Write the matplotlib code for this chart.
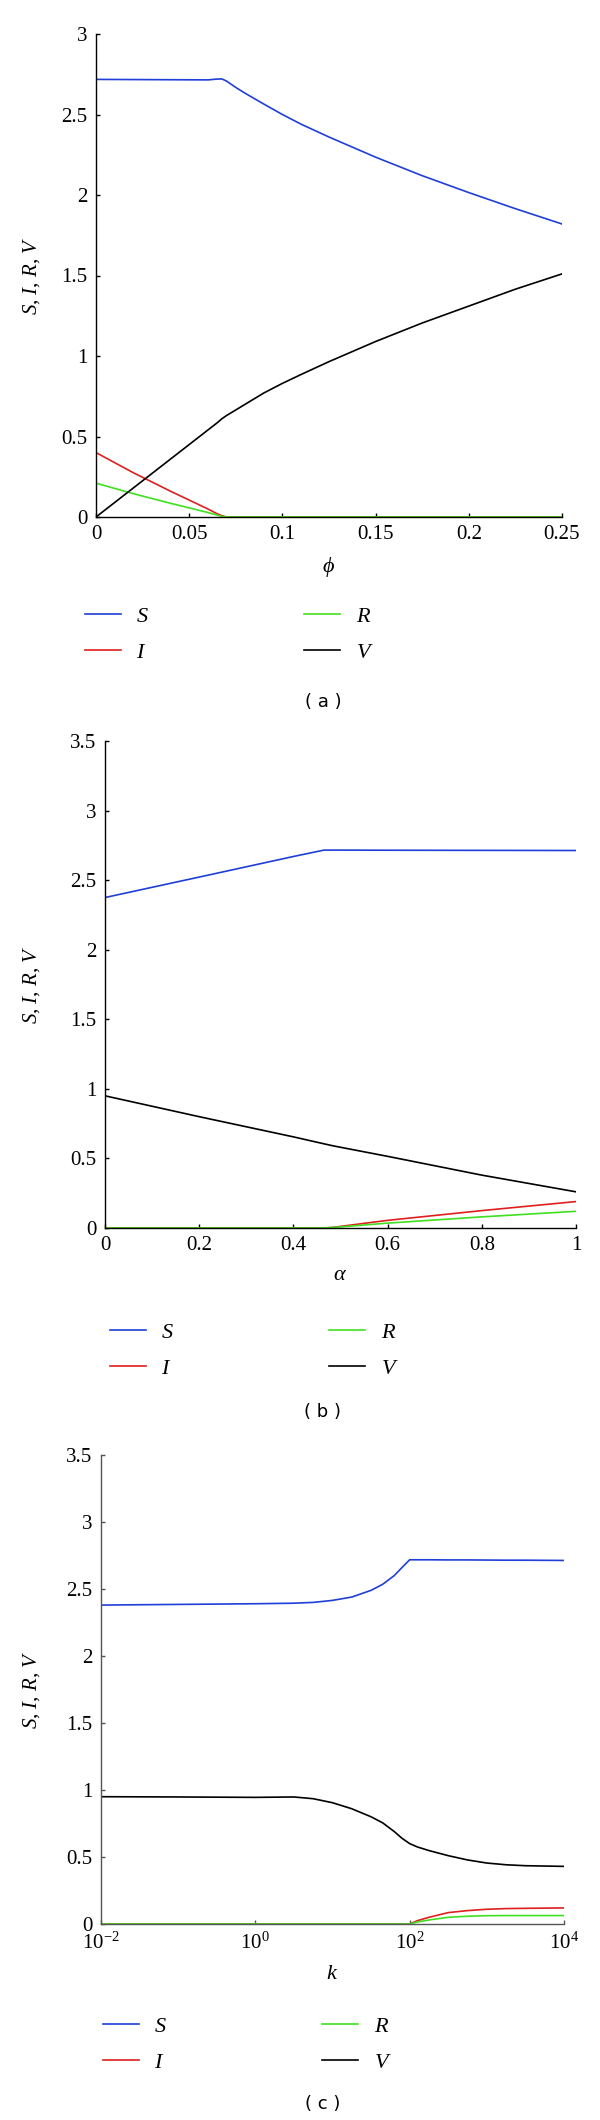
import matplotlib
matplotlib.use("Agg")
import matplotlib.pyplot as plt

# ---- panel (a): phi ----
phi = [0, 0.02, 0.04, 0.06, 0.065, 0.0675, 0.07, 0.075, 0.08, 0.09, 0.1,
       0.11, 0.125, 0.14, 0.15, 0.175, 0.2, 0.225, 0.25]
S_a = [2.718, 2.717, 2.716, 2.715, 2.72, 2.721, 2.708, 2.668, 2.632, 2.565, 2.50,
       2.44, 2.36, 2.285, 2.235, 2.12, 2.015, 1.915, 1.82]
V_a = [0, 0.18, 0.36, 0.54, 0.585, 0.61, 0.63, 0.665, 0.70, 0.77, 0.83,
       0.885, 0.965, 1.04, 1.09, 1.205, 1.31, 1.415, 1.51]
I_a = [0.40, 0.275, 0.16, 0.05, 0.02, 0.008, 0, 0, 0, 0, 0,
       0, 0, 0, 0, 0, 0, 0, 0]
R_a = [0.21, 0.145, 0.085, 0.028, 0.012, 0.004, 0, 0, 0, 0, 0,
       0, 0, 0, 0, 0, 0, 0, 0]

# ---- panel (b): alpha ----
alpha = [0, 0.2, 0.4, 0.465, 0.485, 0.6, 0.8, 1.0]
S_b = [2.375, 2.522, 2.67, 2.716, 2.716, 2.715, 2.714, 2.713]
V_b = [0.95, 0.80, 0.655, 0.605, 0.59, 0.515, 0.38, 0.26]
I_b = [0, 0, 0, 0, 0.005, 0.055, 0.125, 0.19]
R_b = [0, 0, 0, 0, 0.004, 0.035, 0.08, 0.12]

# ---- panel (c): k (log scale), given as log10(k) ----
logk = [-2, -1, 0, 0.5, 0.75, 1.0, 1.25, 1.5, 1.65, 1.8, 1.9, 2.0,
        2.1, 2.25, 2.5, 2.75, 3.0, 3.25, 3.5, 4.0]
S_c = [2.38, 2.385, 2.39, 2.394, 2.40, 2.415, 2.44, 2.49, 2.535, 2.60, 2.66, 2.718,
       2.718, 2.718, 2.717, 2.717, 2.716, 2.715, 2.715, 2.713]
V_c = [0.95, 0.948, 0.945, 0.948, 0.935, 0.905, 0.86, 0.80, 0.755, 0.69, 0.64, 0.60,
       0.575, 0.548, 0.51, 0.478, 0.455, 0.442, 0.435, 0.43]
I_c = [0, 0, 0, 0, 0, 0, 0, 0, 0, 0, 0, 0,
       0.025, 0.05, 0.085, 0.10, 0.11, 0.115, 0.117, 0.12]
R_c = [0, 0, 0, 0, 0, 0, 0, 0, 0, 0, 0, 0,
       0.015, 0.03, 0.05, 0.058, 0.062, 0.063, 0.063, 0.063]
k = [10 ** v for v in logk]

labels = ["$S$", "$I$", "$R$", "$V$"]
colors = ["#1f3fd8", "#e01f1f", "#3fe01f", "#000000"]

plt.rcParams["font.family"] = ["Liberation Serif", "DejaVu Serif"]
plt.rcParams["mathtext.fontset"] = "custom"
plt.rcParams["mathtext.rm"] = "Liberation Serif"
plt.rcParams["mathtext.it"] = "Liberation Serif:italic"
plt.rcParams["mathtext.bf"] = "Liberation Serif:bold"

W, H = 600, 2120
fig = plt.figure(figsize=(W / 100, H / 100), dpi=100)


def px_axes(left, right, top, bottom):
    return fig.add_axes([left / W, 1 - bottom / H, (right - left) / W, (bottom - top) / H])


def style(ax, spine_color="black"):
    for s in ["top", "right"]:
        ax.spines[s].set_visible(False)
    for s in ["left", "bottom"]:
        ax.spines[s].set_color(spine_color)
        ax.spines[s].set_linewidth(1.0)
    ax.tick_params(direction="in", length=3, width=1.0, labelsize=15, pad=6,
                   color=spine_color)
    ax.minorticks_off()


def panel(ax, x, series, xlabel, ymax, yticks, ylabel_x):
    lines = []
    for y, lab, c in zip(series, labels, colors):
        ln, = ax.plot(x, y, color=c, lw=1.2, label=lab)
        lines.append(ln)
    ax.set_ylim(0, ymax)
    ax.set_yticks(yticks)
    ax.set_yticklabels([("%g" % t) for t in yticks])
    ax.set_xlabel(xlabel, fontsize=16, labelpad=8)
    ax.set_ylabel("$S$, $I$, $R$, $V$", fontsize=15)
    ax.yaxis.set_label_coords(ylabel_x, 0.5)
    return lines


# (a)
ax1 = px_axes(96, 562, 34, 517)
style(ax1)
ln1 = panel(ax1, phi, [S_a, I_a, R_a, V_a], r"$\phi$", 3,
            [0, 0.5, 1, 1.5, 2, 2.5, 3], (42 - 96) / 466)
ax1.set_xlim(0, 0.25)
ax1.set_xticks([0, 0.05, 0.1, 0.15, 0.2, 0.25])
ax1.set_xticklabels(["0", "0.05", "0.1", "0.15", "0.2", "0.25"])

# (b)
ax2 = px_axes(105, 576, 741, 1228)
style(ax2)
ln2 = panel(ax2, alpha, [S_b, I_b, R_b, V_b], r"$\alpha$", 3.5,
            [0, 0.5, 1, 1.5, 2, 2.5, 3, 3.5], (42 - 105) / 471)
ax2.set_xlim(0, 1)
ax2.set_xticks([0, 0.2, 0.4, 0.6, 0.8, 1])
ax2.set_xticklabels(["0", "0.2", "0.4", "0.6", "0.8", "1"])

# (c)
ax3 = px_axes(101, 564, 1455, 1924)
ax3.set_xscale("log")
style(ax3, spine_color="#555555")
ln3 = panel(ax3, k, [S_c, I_c, R_c, V_c], "$k$", 3.5,
            [0, 0.5, 1, 1.5, 2, 2.5, 3, 3.5], (42 - 101) / 463)
ax3.set_xlim(1e-2, 1e4)
ax3.set_xticks([1e-2, 1e0, 1e2, 1e4])
ax3.set_xticklabels([r"$10^{-2}$", r"$10^{0}$", r"$10^{2}$", r"$10^{4}$"])
ax3.minorticks_off()

# legends and panel captions
for lines, lx, ly, cap, cy in [(ln1, 85, 606, "( a )", 702),
                               (ln2, 110, 1322, "( b )", 1412),
                               (ln3, 103, 2016, "( c )", 2104)]:
    fig.legend(lines, labels, loc="upper left", bbox_to_anchor=(lx / W, 1 - ly / H),
               ncol=2, frameon=False, fontsize=16, borderpad=0, borderaxespad=0,
               handlelength=1.6, handletextpad=0.7, columnspacing=7.0,
               labelspacing=0.7)
    fig.text(323 / W, 1 - cy / H, cap, ha="center", va="center",
             fontsize=13, family="DejaVu Sans")

fig.savefig("out.png", dpi=100)
